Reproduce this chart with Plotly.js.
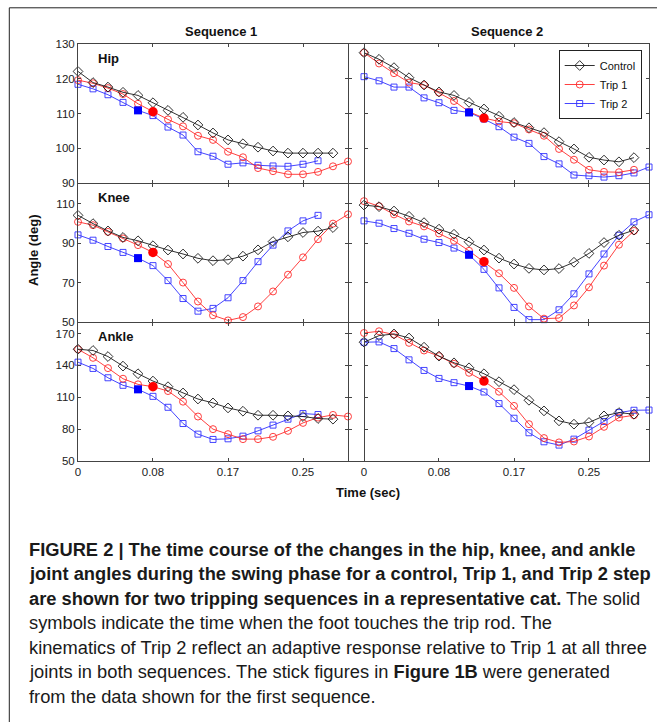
<!DOCTYPE html>
<html>
<head>
<meta charset="utf-8">
<script src="https://cdn.plot.ly/plotly-3.0.1.min.js"></script>
<style>html,body{margin:0;padding:0;background:#fff;}#chart{width:657px;height:722px;}</style>
</head>
<body>
<div id="chart"></div>
<script>
// ---------------- data ----------------
const T = [0, 0.0167, 0.0333, 0.05, 0.0667, 0.0833, 0.1, 0.1167, 0.1333, 0.15,
           0.1667, 0.1833, 0.2, 0.2167, 0.2333, 0.25, 0.2667, 0.2833, 0.3, 0.3167];

const seriesNames = ["Control", "Trip 1", "Trip 2"];
const jointNames = ["Hip", "Knee", "Ankle"];
const sequenceNames = ["Sequence 1", "Sequence 2"];

// Sequence 1
const hip1Control  = [122.1,118.9,117.6,116.1,115.2,113.1,110.9,108.9,106.7,104.4,102.4,101.3,100.3,99.2,98.6,98.6,98.6,98.6];
const hip1Trip1    = [119.6,118.7,117.3,115.6,112.8,110.5,108.3,106.3,103.6,102.4,99.0,97.4,94.3,93.4,92.5,92.5,93.2,94.8,96.2];
const hip1Trip2    = [118.4,117.1,115.4,113.2,110.9,109.4,106.1,103.8,99.0,97.7,95.4,95.8,95.1,94.9,94.8,95.4,96.4];
const knee1Control = [104.1,99.9,96.2,92.9,91.2,88.7,86.5,84.5,82.3,81.1,81.6,83.4,86.6,90.8,93.2,95.4,96.1,97.9];
const knee1Trip1   = [100.8,99.1,95.7,92.4,89.0,85.3,79.4,70.0,60.4,53.4,50.8,52.5,57.9,65.5,74.0,82.8,92.0,99.9,104.6];
const knee1Trip2   = [94.2,91.5,88.3,85.3,82.4,78.6,71.0,61.9,55.5,56.9,62.3,71.0,80.6,89.0,96.2,101.3,104.1];
const ankle1Control= [155.3,154.1,148.4,139.4,132.2,125.3,120.0,114.1,108.4,104.7,100.0,96.9,93.1,93.1,92.5,91.9,90.0,89.4];
const ankle1Trip1  = [155.3,147.2,137.5,127.5,122.2,120.0,115.9,105.9,91.9,80.0,75.3,70.6,70.6,72.8,78.4,85.9,90.9,93.4,91.9];
const ankle1Trip2  = [143.1,137.2,128.4,121.3,117.5,110.9,100.6,85.3,75.3,70.3,70.9,73.4,78.4,83.8,89.4,94.7,93.8];

// Sequence 2
const hip2Control  = [127.5,125.6,123.2,120.3,118.2,116.2,115.2,113.2,111.3,109.2,107.4,105.9,104.5,101.9,99.8,97.4,96.6,96.1,97.3];
const hip2Trip1    = [127.5,124.4,121.6,118.9,118.2,116.0,113.6,110.5,108.7,107.7,107.2,105.4,103.6,99.8,96.7,93.8,93.2,93.1,93.8];
const hip2Trip2    = [120.6,119.4,117.6,117.6,114.5,113.1,110.9,110.3,108.4,106.2,103.2,101.4,97.6,95.5,92.3,92.1,91.7,92.1,92.9,94.6];
const knee2Control = [109.3,108.5,106.3,103.6,100.4,97.1,94.5,90.7,86.5,82.4,79.4,77.2,76.4,77.1,80.3,84.8,90.3,94.0,96.6];
const knee2Trip1   = [111.3,108.7,104.6,101.0,98.5,94.9,91.2,86.1,80.6,74.7,67.3,57.9,51.7,52.0,58.4,67.6,78.6,89.2,96.2];
const knee2Trip2   = [101.3,100.1,97.4,95.0,92.0,90.3,87.5,84.1,76.7,67.3,57.4,51.2,51.2,56.2,64.3,74.4,84.5,94.0,100.8,104.4];
const ankle2Control= [161.9,168.1,169.7,165.9,157.2,148.8,142.5,137.8,132.2,124.7,117.2,107.2,97.2,87.8,84.7,86.3,92.5,95.6,94.1];
const ankle2Trip1  = [170.6,172.2,169.1,161.3,154.1,148.8,141.6,133.1,125.3,115.3,101.9,84.7,71.6,67.5,68.4,73.1,82.2,90.9,93.1];
const ankle2Trip2  = [161.9,162.2,155.9,145.3,135.3,127.8,123.8,120.6,115.0,104.1,90.3,76.6,68.1,65.0,70.6,79.1,87.2,95.6,97.8,98.0];

// index of the sample when the foot touches the trip rod (solid symbols)
const touchTrip1 = [5, 8];   // sequence 1, sequence 2
const touchTrip2 = [4, 7];

const xTickVals = [0, 0.0833, 0.1667, 0.25];
const xTickText = ["0", "0.08", "0.17", "0.25"];
const yTickVals = [[90,100,110,120,130], [50,70,90,110], [50,80,110,140,170]];

const captionLines = [
  "<b>FIGURE 2 | The time course of the changes in the hip, knee, and ankle</b>",
  "<b>joint angles during the swing phase for a control, Trip 1, and Trip 2 step</b>",
  "<b>are shown for two tripping sequences in a representative cat.</b> The solid",
  "symbols indicate the time when the foot touches the trip rod. The",
  "kinematics of Trip 2 reflect an adaptive response relative to Trip 1 at all three",
  "joints in both sequences. The stick figures in <b>Figure 1B</b> were generated",
  "from the data shown for the first sequence."
];

// ---------------- layout geometry ----------------
const W = 657, H = 722;
const fx = v => v / W;
const fy = v => 1 - v / H;
const colPx = [[78, 348], [349, 649]];
const colRange = [[0, 0.3], [-0.0167, 0.3167]];
const rowPx = [[44, 183], [184, 322], [323, 461]];
const rowRange = [[90, 130], [50, 120], [50, 180]];
const zeroLinePx = 364;

const data = [
  [[hip1Control, hip1Trip1, hip1Trip2], [knee1Control, knee1Trip1, knee1Trip2], [ankle1Control, ankle1Trip1, ankle1Trip2]],
  [[hip2Control, hip2Trip1, hip2Trip2], [knee2Control, knee2Trip1, knee2Trip2], [ankle2Control, ankle2Trip1, ankle2Trip2]]
];

const FONT = "'Liberation Sans', Arial, Helvetica, sans-serif";
const AXC = "#444";
const styles = [
  {color: "#1a1a1a", symbol: "diamond-open", size: 7.5},
  {color: "#ff2a2a", symbol: "circle-open", size: 7},
  {color: "#3030ff", symbol: "square-open", size: 6}
];

const traces = [];
const layout = {
  width: W, height: H,
  margin: {l: 0, r: 0, t: 0, b: 0},
  paper_bgcolor: "#fff", plot_bgcolor: "rgba(0,0,0,0)",
  font: {family: FONT, size: 11, color: "#222"},
  showlegend: true,
  legend: {
    x: fx(641.7), xanchor: "right", y: fy(50), yanchor: "top",
    bgcolor: "#fff", bordercolor: "#222", borderwidth: 1,
    font: {family: FONT, size: 11, color: "#111"},
    tracegroupgap: 0, itemwidth: 30
  },
  annotations: [], shapes: []
};

let overlayIdx = 7;
for (let c = 0; c < 2; c++) {
  for (let r = 0; r < 3; r++) {
    const p = r * 2 + c + 1;
    const xa = "xaxis" + (p === 1 ? "" : p), ya = "yaxis" + (p === 1 ? "" : p);
    const xs = "x" + (p === 1 ? "" : p), ys = "y" + (p === 1 ? "" : p);
    layout[xa] = {
      domain: [fx(colPx[c][0]), fx(colPx[c][1])], range: colRange[c], anchor: ys,
      tickmode: "array", tickvals: xTickVals, ticktext: xTickText,
      showticklabels: r === 2, ticks: "inside", ticklen: 3, tickcolor: AXC,
      showline: true, linecolor: AXC, linewidth: 1, mirror: "ticks",
      showgrid: false, zeroline: false, fixedrange: true,
      tickfont: {family: FONT, size: 11.5, color: "#222"}
    };
    layout[ya] = {
      domain: [fy(rowPx[r][1]), fy(rowPx[r][0])], range: rowRange[r], anchor: xs,
      tickmode: "array", tickvals: yTickVals[r],
      showticklabels: c === 0, ticks: "inside", ticklen: 3, tickcolor: AXC,
      showline: true, linecolor: AXC, linewidth: 1, mirror: "ticks",
      showgrid: false, zeroline: false, fixedrange: true,
      tickfont: {family: FONT, size: 11.5, color: "#222"}
    };
    let controlY = ys;
    if (c === 1) {
      const oy = "y" + overlayIdx;
      layout["yaxis" + overlayIdx] = {
        overlaying: ys, anchor: "free", position: fx(zeroLinePx), side: "left",
        range: rowRange[r], tickmode: "array", tickvals: yTickVals[r],
        showticklabels: false, ticks: "inside", ticklen: 3, tickcolor: AXC,
        showline: true, linecolor: AXC, linewidth: 1,
        showgrid: false, zeroline: false, fixedrange: true
      };
      controlY = oy;
      overlayIdx++;
    }
    const set = data[c][r];
    for (let s = 2; s >= 0; s--) {
      const vals = set[s];
      traces.push({
        type: "scatter", mode: "lines+markers",
        name: seriesNames[s], legendgroup: seriesNames[s],
        showlegend: (c === 0 && r === 0), legendrank: s + 1,
        x: T.slice(0, vals.length), y: vals,
        xaxis: xs, yaxis: s === 0 ? controlY : ys,
        cliponaxis: false,
        line: {color: styles[s].color, width: 0.9},
        marker: {symbol: styles[s].symbol, size: styles[s].size, color: styles[s].color,
                 line: {color: styles[s].color, width: 0.9}}
      });
    }
    // solid symbols: foot touches the trip rod
    const k1 = touchTrip1[c], k2 = touchTrip2[c];
    traces.push({
      type: "scatter", mode: "markers", showlegend: false, hoverinfo: "skip",
      x: [T[k2]], y: [set[2][k2]], xaxis: xs, yaxis: ys, cliponaxis: false,
      marker: {symbol: "square", size: 8, color: "#0000ff", line: {width: 0}}
    });
    traces.push({
      type: "scatter", mode: "markers", showlegend: false, hoverinfo: "skip",
      x: [T[k1]], y: [set[1][k1]], xaxis: xs, yaxis: ys, cliponaxis: false,
      marker: {symbol: "circle", size: 9.5, color: "#ff0000", line: {width: 0}}
    });
  }
}

// joint labels
const jointLabelY = [58.3, 197.3, 336];
jointNames.forEach((n, i) => layout.annotations.push({
  xref: "paper", yref: "paper", x: fx(96), y: fy(jointLabelY[i]),
  xanchor: "left", yanchor: "middle", showarrow: false,
  text: "<b>" + n + "</b>", font: {family: FONT, size: 13, color: "#111"}
}));
// column titles
const seqX = [220.5, 506.5];
sequenceNames.forEach((n, i) => layout.annotations.push({
  xref: "paper", yref: "paper", x: fx(seqX[i]), y: fy(31), xanchor: "center", yanchor: "middle",
  showarrow: false, text: "<b>" + n + "</b>", font: {family: FONT, size: 13, color: "#111"}
}));
// axis titles
layout.annotations.push({
  xref: "paper", yref: "paper", x: fx(367.5), y: fy(492), xanchor: "center", yanchor: "middle",
  showarrow: false, text: "<b>Time (sec)</b>", font: {family: FONT, size: 13, color: "#111"}
});
layout.annotations.push({
  xref: "paper", yref: "paper", x: fx(33), y: fy(250), xanchor: "center", yanchor: "middle",
  showarrow: false, textangle: -90, text: "<b>Angle (deg)</b>", font: {family: FONT, size: 13, color: "#111"}
});
// caption
const capY = [549, 573.5, 598, 622.5, 647, 671.5, 696];
captionLines.forEach((t, i) => layout.annotations.push({
  xref: "paper", yref: "paper", x: fx(27), y: fy(capY[i]), xanchor: "left", yanchor: "middle",
  showarrow: false, text: t,
  font: {family: FONT, size: 18.3, color: "#1a1a1a"}
}));
// figure frame
layout.shapes.push({
  type: "rect", xref: "paper", yref: "paper", x0: fx(9.3), x1: 1.02, y0: -0.02, y1: fy(7.8),
  line: {color: "#222", width: 1}, fillcolor: "rgba(0,0,0,0)", layer: "below"
});

Plotly.newPlot("chart", traces, layout, {staticPlot: true, displayModeBar: false});
</script>
</body>
</html>
